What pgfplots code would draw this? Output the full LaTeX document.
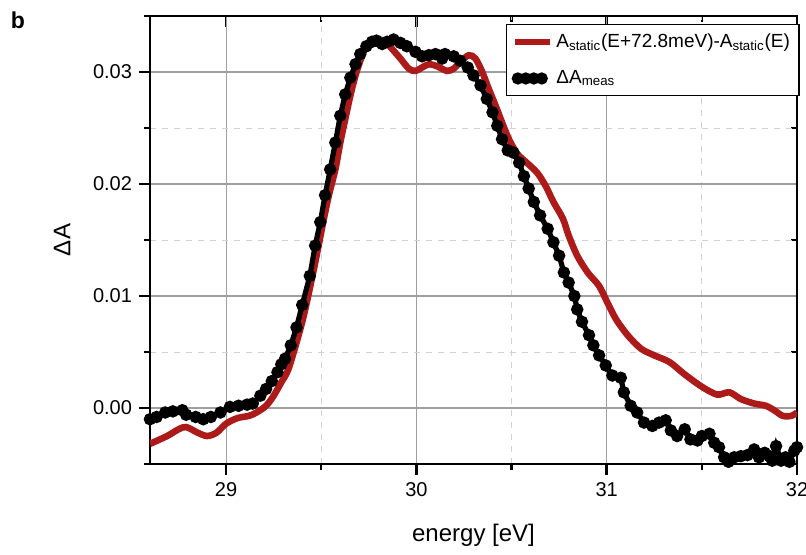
\documentclass[border=0pt]{standalone}
\usepackage{pgfplots}
\pgfplotsset{compat=1.18}
\usepackage{fontspec}
\setmainfont{Liberation Sans}
\definecolor{dred}{RGB}{172,26,26}
\begin{document}
\begin{tikzpicture}
\path[use as bounding box] (-75pt,-45pt) rectangle (328pt,232pt);
\pgfplotsset{
  base/.style={
    scale only axis, width=323.5pt, height=224pt,
    at={(0,0)}, anchor=south west,
    xmin=28.6, xmax=32, ymin=-0.005, ymax=0.035,
    xtick={29,30,31,32}, minor xtick={29.5,30.5,31.5},
    ytick={0,0.01,0.02,0.03}, minor ytick={-0.005,0.005,0.015,0.025,0.035},
    scaled y ticks=false, scaled x ticks=false,
    axis line style={line width=1.3pt},
    major tick length=5.5pt, minor tick length=3pt,
    every tick/.style={black, line width=1.3pt},
    every minor tick/.style={black, line width=1.1pt},
  }
}
% overlay axis: inward ticks on top and right
\begin{axis}[base,
  xtick pos=right, ytick pos=right, tick align=inside,
  xticklabels={}, yticklabels={}]
\end{axis}
\begin{axis}[base,
  xtick pos=left, ytick pos=left, tick align=outside,
  grid=both,
  major grid style={gray!75, line width=0.6pt},
  minor grid style={gray!35, dashed, line width=0.4pt},
  yticklabel style={/pgf/number format/.cd, fixed, fixed zerofill, precision=2},
  /pgf/number format/assume math mode=true,
  ticklabel style={font=\fontsize{10}{12}\selectfont},
  xlabel={energy [eV]}, ylabel={ΔA},
  xlabel style={font=\fontsize{12}{14}\selectfont, at={([yshift=-35.5pt]rel axis cs:0.5,0)}, anchor=center},
  ylabel style={font=\fontsize{12}{14}\selectfont, at={([xshift=-44pt]rel axis cs:0,0.5)}, anchor=center},
  legend cell align=left,
  legend style={draw=black, line width=0.6pt, fill=white,
    font=\fontsize{9.5}{11}\selectfont,
    at={(rel axis cs:1.004,0.982)}, anchor=north east,
    row sep=6pt, inner sep=2.5pt},
]
\addplot[dred, line width=3.3pt, smooth] coordinates {
(28.60,-0.0032) (28.69,-0.0025) (28.75,-0.0019) (28.79,-0.0017) (28.85,-0.0022)
(28.90,-0.0025) (28.95,-0.0022) (29.00,-0.0014) (29.06,-0.0009) (29.12,-0.0007)
(29.16,-0.0004) (29.21,0.0002) (29.25,0.0011) (29.29,0.0023) (29.33,0.0036)
(29.40,0.0077) (29.45,0.0115) (29.486,0.0145) (29.51,0.0166) (29.54,0.0190)
(29.574,0.0213) (29.60,0.0237) (29.626,0.0258) (29.653,0.0279) (29.68,0.0297)
(29.705,0.0310) (29.73,0.0321) (29.767,0.0328) (29.80,0.0329) (29.837,0.0327)
(29.87,0.0321) (29.916,0.0312) (29.96,0.0303) (29.995,0.0301) (30.04,0.0305)
(30.07,0.0307) (30.11,0.0305) (30.16,0.0301) (30.196,0.0303) (30.23,0.0309)
(30.275,0.0315) (30.31,0.0312) (30.346,0.0300) (30.38,0.0285) (30.416,0.0270)
(30.45,0.0255) (30.486,0.0240) (30.53,0.0227) (30.58,0.0219) (30.635,0.0210)
(30.68,0.0198) (30.72,0.0184) (30.77,0.0169) (30.80,0.0154) (30.845,0.0136)
(30.90,0.0121) (30.96,0.0109) (31.004,0.0094) (31.05,0.0079) (31.11,0.0065)
(31.18,0.0053) (31.25,0.0047) (31.33,0.0041) (31.41,0.0030) (31.50,0.0019)
(31.58,0.0012) (31.645,0.0014) (31.705,0.0008) (31.775,0.0004) (31.837,0.0002)
(31.88,-0.0002) (31.925,-0.0007) (31.97,-0.0007) (32.00,-0.0004)
};
\addlegendentry{A\textsubscript{static}(E+72.8meV)-A\textsubscript{static}(E)}
\addplot[black, line width=2.6pt, mark=*, mark size=1.75pt,
  legend image code/.code={
    \fill[black] (0.05cm,0) circle (1.7pt);
    \fill[black] (0.19cm,0) circle (1.7pt);
    \fill[black] (0.33cm,0) circle (1.7pt);
    \fill[black] (0.47cm,0) circle (1.7pt);}] coordinates {
(28.60,-0.0010) (28.635,-0.0008) (28.68,-0.0004) (28.72,-0.0003) (28.77,-0.0002)
(28.79,-0.0006) (28.84,-0.0008) (28.88,-0.0010) (28.92,-0.0008) (28.97,-0.0004)
(29.02,0.0001) (29.065,0.0002) (29.11,0.0003) (29.14,0.0004) (29.18,0.0011)
(29.21,0.0017) (29.24,0.0024) (29.27,0.0032) (29.29,0.0039) (29.31,0.0044)
(29.34,0.0056) (29.37,0.0072) (29.40,0.0092) (29.44,0.0118) (29.468,0.0145)
(29.495,0.0166) (29.52,0.0190) (29.547,0.0213) (29.574,0.0237) (29.60,0.0261)
(29.626,0.0280) (29.653,0.0295) (29.68,0.0307) (29.705,0.0316) (29.737,0.0323)
(29.767,0.0327) (29.79,0.0328) (29.82,0.0325) (29.846,0.0327) (29.88,0.0329)
(29.916,0.0326) (29.95,0.0323) (29.995,0.0318) (30.03,0.0314) (30.065,0.0315)
(30.10,0.0316) (30.135,0.0312) (30.15,0.0316) (30.196,0.0314) (30.23,0.0310)
(30.27,0.0304) (30.30,0.0297) (30.337,0.0288) (30.37,0.0276) (30.40,0.0264)
(30.425,0.0252) (30.45,0.0240) (30.48,0.0230) (30.51,0.0228) (30.54,0.0219)
(30.565,0.0207) (30.59,0.0196) (30.617,0.0184) (30.65,0.0172) (30.69,0.0160)
(30.72,0.0148) (30.75,0.0136) (30.775,0.0121) (30.80,0.0112) (30.83,0.0100)
(30.845,0.0088) (30.87,0.0077) (30.907,0.0065) (30.93,0.0056) (30.96,0.0047)
(30.995,0.0038) (31.03,0.0029) (31.074,0.0027) (31.09,0.0014) (31.126,0.0002)
(31.16,-0.0004) (31.196,-0.0013) (31.24,-0.0016) (31.275,-0.0013) (31.31,-0.0011)
(31.337,-0.0020) (31.37,-0.0025) (31.41,-0.0019) (31.44,-0.0028) (31.477,-0.0029)
(31.50,-0.0025) (31.54,-0.0023) (31.565,-0.0031) (31.59,-0.0035) (31.617,-0.0044)
(31.64,-0.0048) (31.67,-0.0044) (31.705,-0.0043) (31.74,-0.0042) (31.775,-0.0037)
(31.80,-0.0044) (31.83,-0.0040) (31.855,-0.0043) (31.87,-0.0047) (31.89,-0.0034)
(31.916,-0.0047) (31.94,-0.0044) (31.96,-0.0048) (31.986,-0.0038) (32.00,-0.0035)
};
\addlegendentry{ΔA\textsubscript{meas}}
\end{axis}
\node[font=\bfseries\fontsize{11.5}{13}\selectfont, anchor=center] at (-66pt,222pt) {b};
\end{tikzpicture}
\end{document}
